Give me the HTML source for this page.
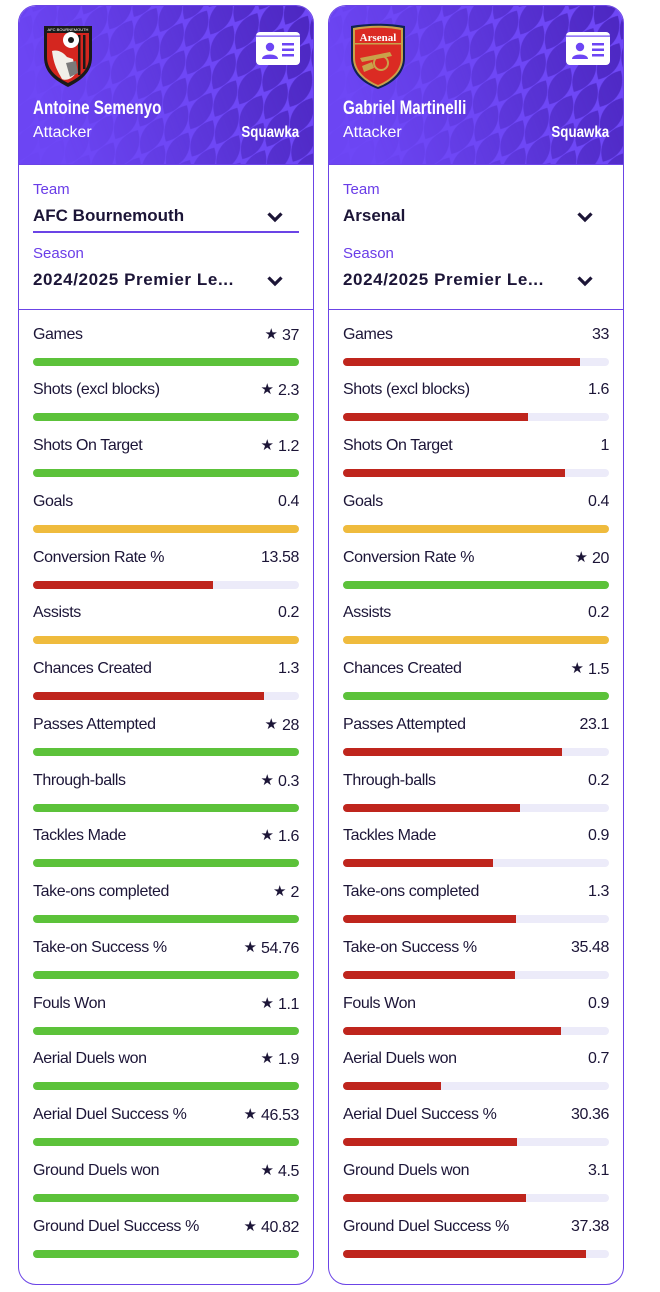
<!DOCTYPE html>
<html><head><meta charset="utf-8">
<style>
*{margin:0;padding:0;box-sizing:border-box}
html,body{width:660px;height:1292px;background:#fff;overflow:hidden}
body{position:relative;font-family:"Liberation Sans",sans-serif;color:#1c1537}
.card{position:absolute;top:5px;width:296px;height:1280px;border:1.5px solid #6b44e6;border-radius:18px;overflow:hidden;background:#fff}
.hdr{position:absolute;left:0;top:0;width:296px;height:159px}
.abs{position:absolute}
.name{font-weight:700;font-size:19px;color:#fff;line-height:22px;white-space:nowrap;transform:scaleX(0.8);transform-origin:0 50%}
.role{font-size:16px;color:#fff;line-height:20px}
.sq{font-weight:700;font-size:15.5px;color:#fff;line-height:20px;text-align:right;white-space:nowrap;transform:scaleX(0.86);transform-origin:100% 50%}
.lab{font-size:15px;color:#6a3de8;line-height:18px}
.val{font-size:17px;font-weight:700;color:#1c1537;line-height:20px;white-space:nowrap}
.sep{position:absolute;left:0;width:296px;height:1.5px;background:#6b44e6}
.row{position:absolute;width:266px;height:42px}
.row .l{position:absolute;left:0;top:2px;font-size:16px;letter-spacing:-0.4px;line-height:18px;white-space:nowrap}
.row .v{position:absolute;right:0;top:2px;font-size:16px;letter-spacing:-0.4px;line-height:18px;white-space:nowrap}
.row .v .s{font-family:"DejaVu Sans",sans-serif;font-size:15px;margin-right:4px;position:relative;top:-1px;letter-spacing:0}
.row .t{position:absolute;left:0;top:34px;width:266px;height:8px;border-radius:4px;background:#ecebf9;overflow:hidden}
.row .t i{position:absolute;left:0;top:0;height:8px;display:block}
.g{background:#5cc23a}.r{background:#bf251d}.y{background:#efbb3d}
</style></head><body>

<!-- LEFT CARD -->
<div class="card" style="left:18px">
  <svg class="hdr" viewBox="0 0 296 159">
    <defs>
      <pattern id="lv1" patternUnits="userSpaceOnUse" width="30" height="46" patternTransform="rotate(30)">
        <path d="M15,2 C28,14 28,32 15,44 C2,32 2,14 15,2Z" fill="#4a25bd"/>
        <path d="M0,-21 C13,-9 13,9 0,21 C-13,9 -13,-9 0,-21Z" fill="#4a25bd"/>
        <path d="M30,-21 C43,-9 43,9 30,21 C17,9 17,-9 30,-21Z" fill="#4a25bd"/>
        <path d="M0,25 C13,37 13,55 0,67 C-13,55 -13,37 0,25Z" fill="#4a25bd"/>
        <path d="M30,25 C43,37 43,55 30,67 C17,55 17,37 30,25Z" fill="#4a25bd"/>
      </pattern>
      <linearGradient id="mg1" x1="0" y1="0.2" x2="1" y2="0">
        <stop offset="0" stop-color="#fff" stop-opacity="0.05"/>
        <stop offset="0.3" stop-color="#fff" stop-opacity="0.3"/>
        <stop offset="0.7" stop-color="#fff" stop-opacity="0.7"/>
        <stop offset="1" stop-color="#fff" stop-opacity="0.95"/>
      </linearGradient>
      <mask id="mk1" maskUnits="userSpaceOnUse" x="0" y="0" width="296" height="159"><rect width="296" height="159" fill="url(#mg1)"/></mask>
    </defs>
    <rect width="296" height="159" fill="#6e47f6"/>
    <rect width="296" height="159" fill="url(#lv1)" mask="url(#mk1)"/>
  </svg>
  <!-- Bournemouth logo -->
  <svg class="abs" style="left:23px;top:17px" width="52" height="65" viewBox="0 0 52 65">
    <path d="M2,3 L50,3 L50,34 C50,50 38,58 26,64 C14,58 2,50 2,34Z" fill="#1a1a1a"/>
    <path d="M5,10 L47,10 L47,34 C47,48 36,55 26,60 C16,55 5,48 5,34Z" fill="#d4261f"/>
    <rect x="36" y="12" width="2.5" height="40" fill="#1a1a1a"/>
    <rect x="41" y="12" width="2.5" height="34" fill="#1a1a1a"/>
    <circle cx="29" cy="17" r="8" fill="#fff"/>
    <circle cx="29" cy="17" r="3" fill="#1a1a1a"/>
    <path d="M10,28 C16,26 22,30 25,34 L31,36 L34,50 C30,56 24,58 20,56 C17,50 12,44 10,28Z" fill="#f1efe9"/>
    <path d="M24,40 L34,38 L36,50 L28,54Z" fill="#7a7a7a"/>
    <text x="26" y="8" font-size="4" fill="#fff" text-anchor="middle" font-family="Liberation Sans">AFC BOURNEMOUTH</text>
  </svg>
  <!-- ID icon -->
  <svg class="abs" style="left:237px;top:26px" width="44" height="33" viewBox="0 0 44 33">
    <rect x="0" y="0" width="44" height="33" rx="4" fill="#fff"/>
    <rect x="0" y="3.5" width="44" height="1.2" fill="#6d45f4"/>
    <circle cx="14" cy="15" r="4.2" fill="#6d45f4"/>
    <path d="M6,27 C6,21 22,21 22,27Z" fill="#6d45f4"/>
    <rect x="26" y="11" width="12" height="2.5" fill="#6d45f4"/>
    <rect x="26" y="16.5" width="12" height="2.5" fill="#6d45f4"/>
    <rect x="26" y="22" width="12" height="2.5" fill="#6d45f4"/>
  </svg>
  <div class="abs name" style="left:14px;top:92px">Antoine Semenyo</div>
  <div class="abs role" style="left:14px;top:117px">Attacker</div>
  <div class="abs sq" style="right:14px;top:117px">Squawka</div>
  <div class="sep" style="top:157.5px"></div>

  <div class="abs lab" style="left:14px;top:175px">Team</div>
  <div class="abs val" style="left:14px;top:200px">AFC Bournemouth</div>
  <svg class="abs" style="left:247px;top:205px" width="18" height="12" viewBox="0 0 18 12"><polyline points="2.5,2.5 9,9 15.5,2.5" fill="none" stroke="#1c1537" stroke-width="3.2"/></svg>
  <div class="abs" style="left:14px;top:224.5px;width:266px;height:2px;background:#6b44e6"></div>
  <div class="abs lab" style="left:14px;top:239px">Season</div>
  <div class="abs val" style="left:14px;top:264px;letter-spacing:0.6px">2024/2025 Premier Le...</div>
  <svg class="abs" style="left:247px;top:269px" width="18" height="12" viewBox="0 0 18 12"><polyline points="2.5,2.5 9,9 15.5,2.5" fill="none" stroke="#1c1537" stroke-width="3.2"/></svg>
  <div class="sep" style="top:302.5px"></div>

  <div class="row" style="left:14px;top:317.5px"><span class="l">Games</span><span class="v"><span class="s">★</span>37</span><div class="t"><i class="g" style="width:266px"></i></div></div>
  <div class="row" style="left:14px;top:373.25px"><span class="l">Shots (excl blocks)</span><span class="v"><span class="s">★</span>2.3</span><div class="t"><i class="g" style="width:266px"></i></div></div>
  <div class="row" style="left:14px;top:429px"><span class="l">Shots On Target</span><span class="v"><span class="s">★</span>1.2</span><div class="t"><i class="g" style="width:266px"></i></div></div>
  <div class="row" style="left:14px;top:484.75px"><span class="l">Goals</span><span class="v">0.4</span><div class="t"><i class="y" style="width:266px"></i></div></div>
  <div class="row" style="left:14px;top:540.5px"><span class="l">Conversion Rate %</span><span class="v">13.58</span><div class="t"><i class="r" style="width:180px"></i></div></div>
  <div class="row" style="left:14px;top:596.25px"><span class="l">Assists</span><span class="v">0.2</span><div class="t"><i class="y" style="width:266px"></i></div></div>
  <div class="row" style="left:14px;top:652px"><span class="l">Chances Created</span><span class="v">1.3</span><div class="t"><i class="r" style="width:231px"></i></div></div>
  <div class="row" style="left:14px;top:707.75px"><span class="l">Passes Attempted</span><span class="v"><span class="s">★</span>28</span><div class="t"><i class="g" style="width:266px"></i></div></div>
  <div class="row" style="left:14px;top:763.5px"><span class="l">Through-balls</span><span class="v"><span class="s">★</span>0.3</span><div class="t"><i class="g" style="width:266px"></i></div></div>
  <div class="row" style="left:14px;top:819.25px"><span class="l">Tackles Made</span><span class="v"><span class="s">★</span>1.6</span><div class="t"><i class="g" style="width:266px"></i></div></div>
  <div class="row" style="left:14px;top:875px"><span class="l">Take-ons completed</span><span class="v"><span class="s">★</span>2</span><div class="t"><i class="g" style="width:266px"></i></div></div>
  <div class="row" style="left:14px;top:930.75px"><span class="l">Take-on Success %</span><span class="v"><span class="s">★</span>54.76</span><div class="t"><i class="g" style="width:266px"></i></div></div>
  <div class="row" style="left:14px;top:986.5px"><span class="l">Fouls Won</span><span class="v"><span class="s">★</span>1.1</span><div class="t"><i class="g" style="width:266px"></i></div></div>
  <div class="row" style="left:14px;top:1042.25px"><span class="l">Aerial Duels won</span><span class="v"><span class="s">★</span>1.9</span><div class="t"><i class="g" style="width:266px"></i></div></div>
  <div class="row" style="left:14px;top:1098px"><span class="l">Aerial Duel Success %</span><span class="v"><span class="s">★</span>46.53</span><div class="t"><i class="g" style="width:266px"></i></div></div>
  <div class="row" style="left:14px;top:1153.75px"><span class="l">Ground Duels won</span><span class="v"><span class="s">★</span>4.5</span><div class="t"><i class="g" style="width:266px"></i></div></div>
  <div class="row" style="left:14px;top:1209.5px"><span class="l">Ground Duel Success %</span><span class="v"><span class="s">★</span>40.82</span><div class="t"><i class="g" style="width:266px"></i></div></div>
</div>

<!-- RIGHT CARD -->
<div class="card" style="left:328px">
  <svg class="hdr" viewBox="0 0 296 159">
    <defs>
      <pattern id="lv2" patternUnits="userSpaceOnUse" width="30" height="46" patternTransform="rotate(30)">
        <path d="M15,2 C28,14 28,32 15,44 C2,32 2,14 15,2Z" fill="#4a25bd"/>
        <path d="M0,-21 C13,-9 13,9 0,21 C-13,9 -13,-9 0,-21Z" fill="#4a25bd"/>
        <path d="M30,-21 C43,-9 43,9 30,21 C17,9 17,-9 30,-21Z" fill="#4a25bd"/>
        <path d="M0,25 C13,37 13,55 0,67 C-13,55 -13,37 0,25Z" fill="#4a25bd"/>
        <path d="M30,25 C43,37 43,55 30,67 C17,55 17,37 30,25Z" fill="#4a25bd"/>
      </pattern>
      <linearGradient id="mg2" x1="0" y1="0.2" x2="1" y2="0">
        <stop offset="0" stop-color="#fff" stop-opacity="0.05"/>
        <stop offset="0.3" stop-color="#fff" stop-opacity="0.3"/>
        <stop offset="0.7" stop-color="#fff" stop-opacity="0.7"/>
        <stop offset="1" stop-color="#fff" stop-opacity="0.95"/>
      </linearGradient>
      <mask id="mk2" maskUnits="userSpaceOnUse" x="0" y="0" width="296" height="159"><rect width="296" height="159" fill="url(#mg2)"/></mask>
    </defs>
    <rect width="296" height="159" fill="#6e47f6"/>
    <rect width="296" height="159" fill="url(#lv2)" mask="url(#mk2)"/>
  </svg>
  <!-- Arsenal logo -->
  <svg class="abs" style="left:19px;top:16px" width="60" height="68" viewBox="0 0 60 68">
    <path d="M3,4 C20,1 40,1 57,4 L57,36 C57,52 44,62 30,67 C16,62 3,52 3,36Z" fill="#0f2352"/>
    <path d="M5,6 C21,3 39,3 55,6 L55,36 C55,50 43,60 30,65 C17,60 5,50 5,36Z" fill="#c9a24a"/>
    <path d="M7,8 C22,5 38,5 53,8 L53,36 C53,49 42,58 30,63 C18,58 7,49 7,36Z" fill="#db2b23"/>
    <text x="30" y="19" font-size="11" font-weight="700" fill="#fff" text-anchor="middle" font-family="Liberation Serif,serif">Arsenal</text>
    <rect x="7" y="21" width="46" height="1.5" fill="#c9a24a"/>
    <path d="M12,36 L42,30 L44,34 L14,40Z" fill="#c9a24a"/>
    <circle cx="33" cy="41" r="7" fill="none" stroke="#c9a24a" stroke-width="2"/>
    <path d="M14,44 L24,40 L26,46 L16,50Z" fill="#c9a24a"/>
  </svg>
  <svg class="abs" style="left:237px;top:26px" width="44" height="33" viewBox="0 0 44 33">
    <rect x="0" y="0" width="44" height="33" rx="4" fill="#fff"/>
    <rect x="0" y="3.5" width="44" height="1.2" fill="#6d45f4"/>
    <circle cx="14" cy="15" r="4.2" fill="#6d45f4"/>
    <path d="M6,27 C6,21 22,21 22,27Z" fill="#6d45f4"/>
    <rect x="26" y="11" width="12" height="2.5" fill="#6d45f4"/>
    <rect x="26" y="16.5" width="12" height="2.5" fill="#6d45f4"/>
    <rect x="26" y="22" width="12" height="2.5" fill="#6d45f4"/>
  </svg>
  <div class="abs name" style="left:14px;top:92px">Gabriel Martinelli</div>
  <div class="abs role" style="left:14px;top:117px">Attacker</div>
  <div class="abs sq" style="right:14px;top:117px">Squawka</div>
  <div class="sep" style="top:157.5px"></div>

  <div class="abs lab" style="left:14px;top:175px">Team</div>
  <div class="abs val" style="left:14px;top:200px">Arsenal</div>
  <svg class="abs" style="left:247px;top:205px" width="18" height="12" viewBox="0 0 18 12"><polyline points="2.5,2.5 9,9 15.5,2.5" fill="none" stroke="#1c1537" stroke-width="3.2"/></svg>
  <div class="abs lab" style="left:14px;top:239px">Season</div>
  <div class="abs val" style="left:14px;top:264px;letter-spacing:0.6px">2024/2025 Premier Le...</div>
  <svg class="abs" style="left:247px;top:269px" width="18" height="12" viewBox="0 0 18 12"><polyline points="2.5,2.5 9,9 15.5,2.5" fill="none" stroke="#1c1537" stroke-width="3.2"/></svg>
  <div class="sep" style="top:302.5px"></div>

  <div class="row" style="left:14px;top:317.5px"><span class="l">Games</span><span class="v">33</span><div class="t"><i class="r" style="width:237px"></i></div></div>
  <div class="row" style="left:14px;top:373.25px"><span class="l">Shots (excl blocks)</span><span class="v">1.6</span><div class="t"><i class="r" style="width:185px"></i></div></div>
  <div class="row" style="left:14px;top:429px"><span class="l">Shots On Target</span><span class="v">1</span><div class="t"><i class="r" style="width:222px"></i></div></div>
  <div class="row" style="left:14px;top:484.75px"><span class="l">Goals</span><span class="v">0.4</span><div class="t"><i class="y" style="width:266px"></i></div></div>
  <div class="row" style="left:14px;top:540.5px"><span class="l">Conversion Rate %</span><span class="v"><span class="s">★</span>20</span><div class="t"><i class="g" style="width:266px"></i></div></div>
  <div class="row" style="left:14px;top:596.25px"><span class="l">Assists</span><span class="v">0.2</span><div class="t"><i class="y" style="width:266px"></i></div></div>
  <div class="row" style="left:14px;top:652px"><span class="l">Chances Created</span><span class="v"><span class="s">★</span>1.5</span><div class="t"><i class="g" style="width:266px"></i></div></div>
  <div class="row" style="left:14px;top:707.75px"><span class="l">Passes Attempted</span><span class="v">23.1</span><div class="t"><i class="r" style="width:219px"></i></div></div>
  <div class="row" style="left:14px;top:763.5px"><span class="l">Through-balls</span><span class="v">0.2</span><div class="t"><i class="r" style="width:177px"></i></div></div>
  <div class="row" style="left:14px;top:819.25px"><span class="l">Tackles Made</span><span class="v">0.9</span><div class="t"><i class="r" style="width:150px"></i></div></div>
  <div class="row" style="left:14px;top:875px"><span class="l">Take-ons completed</span><span class="v">1.3</span><div class="t"><i class="r" style="width:173px"></i></div></div>
  <div class="row" style="left:14px;top:930.75px"><span class="l">Take-on Success %</span><span class="v">35.48</span><div class="t"><i class="r" style="width:172px"></i></div></div>
  <div class="row" style="left:14px;top:986.5px"><span class="l">Fouls Won</span><span class="v">0.9</span><div class="t"><i class="r" style="width:218px"></i></div></div>
  <div class="row" style="left:14px;top:1042.25px"><span class="l">Aerial Duels won</span><span class="v">0.7</span><div class="t"><i class="r" style="width:98px"></i></div></div>
  <div class="row" style="left:14px;top:1098px"><span class="l">Aerial Duel Success %</span><span class="v">30.36</span><div class="t"><i class="r" style="width:174px"></i></div></div>
  <div class="row" style="left:14px;top:1153.75px"><span class="l">Ground Duels won</span><span class="v">3.1</span><div class="t"><i class="r" style="width:183px"></i></div></div>
  <div class="row" style="left:14px;top:1209.5px"><span class="l">Ground Duel Success %</span><span class="v">37.38</span><div class="t"><i class="r" style="width:243px"></i></div></div>
</div>

</body></html>
